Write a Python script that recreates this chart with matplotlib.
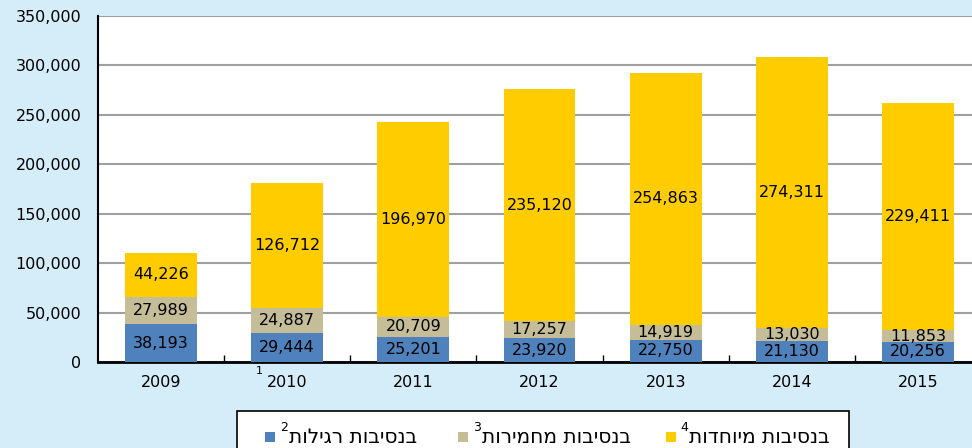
import numpy as np
import matplotlib
matplotlib.use("Agg")
import matplotlib.pyplot as plt
from matplotlib.patches import Rectangle
from matplotlib.ticker import FuncFormatter

years = ["2009", "2010", "2011", "2012", "2013", "2014", "2015"]
regular = [38193, 29444, 25201, 23920, 22750, 21130, 20256]
aggravated = [27989, 24887, 20709, 17257, 14919, 13030, 11853]
special = [44226, 126712, 196970, 235120, 254863, 274311, 229411]

series_names = ["בנסיבות רגילות", "בנסיבות מחמירות", "בנסיבות מיוחדות"]
series_notes = ["2", "3", "4"]
colors = ["#4F81BD", "#C4BD97", "#FFCC00"]
bg = "#D5EDF9"

W, H = 972, 448
fig = plt.figure(figsize=(W / 100, H / 100), dpi=100, facecolor=bg)


def fx(px):
    return px / W


def fy(py):
    return 1 - py / H


# plot area: left 98px, top 16px, bottom 362px, runs past the right edge
ax = fig.add_axes([fx(98), fy(362), fx(981 - 98), (362 - 16) / H])
ax.set_facecolor("white")

x = np.arange(len(years))
bottom = np.zeros(len(years))
for vals, c in zip([regular, aggravated, special], colors):
    bars = ax.bar(x, vals, width=0.57, bottom=bottom, color=c, zorder=3)
    for b, v, b0 in zip(bars, vals, bottom):
        ax.text(b.get_x() + b.get_width() / 2, b0 + v / 2, f"{v:,}",
                ha="center", va="center", fontsize=11.5, color="black", zorder=4)
    bottom = bottom + np.array(vals)

ax.set_xlim(-0.5, len(years) - 0.5)
ax.set_ylim(0, 350000)
ax.set_yticks(np.arange(0, 350001, 50000))
ax.yaxis.set_major_formatter(FuncFormatter(lambda v, p: f"{int(v):,}"))
ax.yaxis.grid(True, color="#A0A0A0", linewidth=1.5, zorder=0)
ax.set_xticks(x)
ax.set_xticklabels(years)
ax.set_xticks(x[:-1] + 0.5, minor=True)
ax.tick_params(axis="x", which="major", length=0, pad=9, labelsize=11.5)
ax.tick_params(axis="x", which="minor", direction="in", length=5, width=1)
ax.tick_params(axis="y", length=0, pad=12, labelsize=11.5)
for s in ["top", "right"]:
    ax.spines[s].set_visible(False)
ax.spines["left"].set_linewidth(1.5)
ax.spines["bottom"].set_linewidth(2)

# footnote mark above 2010
fig.text(fx(259), fy(371), "1", fontsize=8, ha="center", va="center")

# legend box (cut at the bottom edge)
fig.patches.append(Rectangle((fx(237), fy(452)), fx(849 - 237), (452 - 411) / H,
                             transform=fig.transFigure, facecolor="white",
                             edgecolor="black", linewidth=1.2))

fig.canvas.draw()
renderer = fig.canvas.get_renderer()
text_right = [417, 631, 830]
ly = 437
for name, note, c, xr in zip(series_names, series_notes, colors, text_right):
    t = fig.text(fx(xr), fy(ly), name[::-1], fontsize=14.5, ha="right", va="center")
    left_px = t.get_window_extent(renderer).x0
    s = fig.text(fx(left_px - 1), fy(ly - 10), note, fontsize=9, ha="right", va="center")
    sl = s.get_window_extent(renderer).x0
    fig.patches.append(Rectangle((fx(sl - 15), fy(ly + 5)), fx(10), 10 / H,
                                 transform=fig.transFigure, facecolor=c,
                                 edgecolor="none"))

fig.savefig("out.png", dpi=100, facecolor=bg)
